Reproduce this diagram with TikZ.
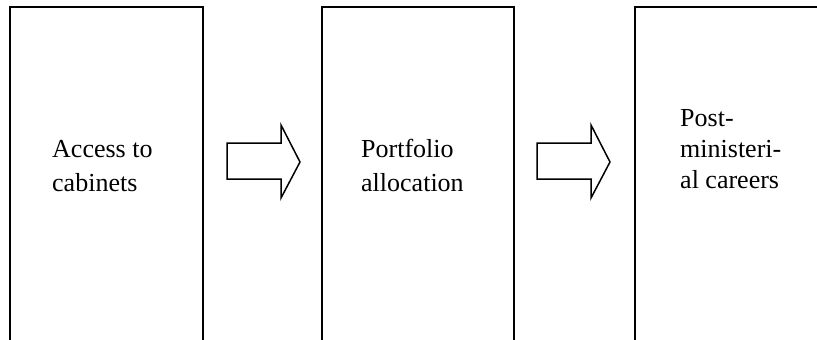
\documentclass[tikz,border=0pt]{standalone}
\usepackage{fontspec}
\setmainfont{Liberation Serif}
\begin{document}
\begin{tikzpicture}[x=1pt,y=-1pt,
  stage/.style={draw=black, line width=2pt, minimum width=193pt, minimum height=420pt, anchor=north west, inner sep=0pt},
  label/.style={anchor=base west, align=left, inner sep=0pt, font=\fontsize{26}{34}\selectfont},
  blockarrow/.style={draw=black, line width=1.5pt, line join=miter}]
\useasboundingbox (0,0) rectangle (817,340);
\clip (0,0) rectangle (817,340);
\node[stage] (s1) at (8.5,5.5) {};
\node[stage, minimum width=192pt] (s2) at (321,5.5) {};
\node[stage] (s3) at (633.5,5.5) {};
\node[label] (t1) at (52,191) {Access to\\cabinets};
\node[label] (t2) at (361,191) {Portfolio\\allocation};
\node[label, font=\fontsize{26}{31}\selectfont] (t3) at (680,188) {Post-\\ministeri-\\al careers};
\coordinate (a1) at (227,143);
\coordinate (a2) at (537,143);
\foreach \a in {a1,a2}{
  \draw[blockarrow] (\a) -- ++(54,0) -- ++(0,-18) -- ++(19,37) -- ++(-19,36) -- ++(0,-19) -- ++(-54,0) -- cycle;
}
\end{tikzpicture}
\end{document}
